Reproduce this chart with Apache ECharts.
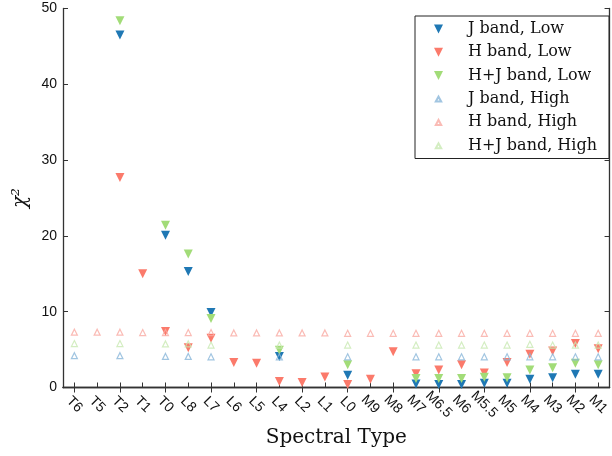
<!DOCTYPE html>
<html>
<head>
<meta charset="utf-8">
<script src="https://cdn.jsdelivr.net/npm/echarts@6/dist/echarts.min.js"></script>
<style>html,body{margin:0;padding:0;background:#fff;}#c{width:612px;height:456px;}</style>
</head>
<body>
<div id="c"></div>
<script>
const categories = ['T6','T5','T2','T1','T0','L8','L7','L6','L5','L4','L2','L1','L0','M9','M8','M7','M6.5','M6','M5.5','M5','M4','M3','M2','M1'];
const jLow  = [null,null,46.5,null,20.1,15.3,9.9,null,null,4.1,null,null,1.6,null,null,0.45,0.4,0.4,0.55,0.55,1.1,1.3,1.75,1.75];
const hLow  = [null,null,27.7,15.0,7.4,5.25,6.5,3.3,3.2,0.8,0.65,1.4,0.4,1.1,4.7,1.8,2.3,3.0,1.9,3.3,4.4,4.8,5.8,5.1];
const hjLow = [null,null,48.4,null,21.4,17.6,9.1,null,null,4.9,null,null,3.0,null,null,1.2,1.2,1.2,1.35,1.3,2.3,2.6,3.2,3.0];
const jHigh  = [4.2,null,4.2,null,4.1,4.1,4.05,null,null,4.05,null,null,4.05,null,null,4.05,4.05,4.05,4.05,4.05,4.05,4.05,4.05,4.05];
const hHigh  = [7.3,7.3,7.3,7.25,7.25,7.25,7.25,7.2,7.2,7.2,7.2,7.2,7.15,7.15,7.15,7.15,7.15,7.15,7.15,7.15,7.15,7.15,7.15,7.15];
const hjHigh = [5.8,null,5.8,null,5.75,5.75,5.6,null,null,5.6,null,null,5.6,null,null,5.6,5.6,5.6,5.6,5.6,5.7,5.6,5.6,5.6];
const yTicks = [0,10,20,30,40,50];
const names = ['J band, Low','H band, Low','H+J band, Low','J band, High','H band, High','H+J band, High'];

const DOWN = 'path://M0,0L2,0L1,2Z';
const SMALL_UP = 'path://M0,0L0,0M10,10L10,10M2,8L5,2.5L8,8Z';
const cBlue = '#1f78b4', cRed = '#fb7a6b', cGreen = '#a2dc78';
const eBlue = '#8ab6da', eRed = '#f9aaa2', eGreen = '#c8e8b2';

function low(name, data, color, z) {
  return {name, type:'scatter', data, symbol: DOWN, symbolSize: 9, z,
    itemStyle:{color, opacity:1}, emphasis:{disabled:true}};
}
function high(name, data, color, z) {
  return {name, type:'scatter', data, symbol:'triangle', symbolSize: 6, z,
    itemStyle:{color:'rgba(255,255,255,0)', borderColor:color, borderWidth:1.2}, emphasis:{disabled:true}};
}

const axisLineStyle = {color:'#333', width:1.3};
const chart = echarts.init(document.getElementById('c'), null, {renderer:'canvas'});
chart.setOption({
  animation:false,
  backgroundColor:'#fff',
  grid:{left:63, top:8.5, width:552.5, height:379, containLabel:false},
  legend:{
    orient:'vertical', left:415, top:16, padding:[5,12,5,18],
    itemWidth:9, itemHeight:9, itemGap:7.3,
    borderColor:'#222', borderWidth:1, backgroundColor:'#fff',
    textStyle:{fontFamily:'DejaVu Serif', fontSize:16, color:'#111', lineHeight:16, padding:[0,0,0,20]},
    data: [
      {name:names[0], icon:DOWN},
      {name:names[1], icon:DOWN},
      {name:names[2], icon:DOWN},
      {name:names[3], icon:SMALL_UP},
      {name:names[4], icon:SMALL_UP},
      {name:names[5], icon:SMALL_UP}
    ], z: 10
  },
  xAxis:[{
    type:'category', data:categories, boundaryGap:true,
    axisLine:{show:true, lineStyle:axisLineStyle},
    axisTick:{show:true, inside:true, length:5, alignWithLabel:true, lineStyle:{color:'#333'}},
    axisLabel:{interval:0, rotate:-45, align:'center', verticalAlign:'middle', margin:17,
      fontFamily:'Liberation Sans', fontSize:14, color:'#111'},
    name:'Spectral Type', nameLocation:'middle', nameGap:40,
    nameTextStyle:{fontFamily:'DejaVu Serif', fontSize:20, color:'#111'},
    splitLine:{show:false}
  },{
    type:'category', data:categories, boundaryGap:true, position:'top',
    axisLine:{show:true, lineStyle:axisLineStyle},
    axisTick:{show:true, inside:true, length:5, alignWithLabel:true, lineStyle:{color:'#333'}},
    axisLabel:{show:false}, splitLine:{show:false}
  }],
  yAxis:[{
    type:'value', min:0, max:50, interval:10,
    axisLine:{show:true, lineStyle:axisLineStyle},
    axisTick:{show:true, inside:true, length:5, lineStyle:{color:'#333'}},
    axisLabel:{margin:6, fontFamily:'Liberation Sans', fontSize:14, color:'#111',
      formatter: v => yTicks.includes(v) ? String(v) : ''},
    splitLine:{show:false},
    name:'χ²', nameLocation:'middle', nameGap:28, nameRotate:90,
    nameTextStyle:{fontFamily:'DejaVu Serif', fontSize:20, fontStyle:'italic', color:'#111'}
  },{
    type:'value', min:0, max:50, interval:10, position:'right',
    axisLine:{show:true, lineStyle:axisLineStyle},
    axisTick:{show:true, inside:true, length:5, lineStyle:{color:'#333'}},
    axisLabel:{show:false}, splitLine:{show:false}
  }],
  series:[
    low(names[0], jLow, cBlue, 3),
    low(names[1], hLow, cRed, 4),
    low(names[2], hjLow, cGreen, 5),
    high(names[3], jHigh, eBlue, 6),
    high(names[4], hHigh, eRed, 7),
    high(names[5], hjHigh, eGreen, 8)
  ]
});
</script>
</body>
</html>
